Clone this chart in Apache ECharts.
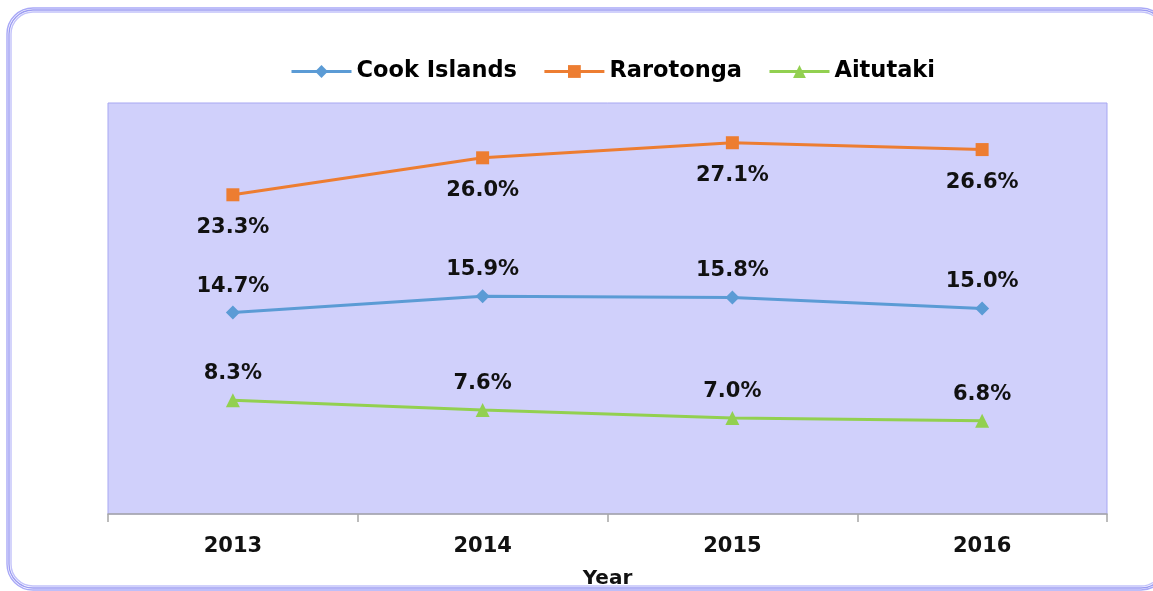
<!DOCTYPE html>
<html>
<head>
<meta charset="utf-8">
<style>
  html, body { margin: 0; padding: 0; background: #ffffff; }
  #chart { width: 1153px; height: 591px; }
</style>
<script src="https://cdn.jsdelivr.net/npm/echarts@6/dist/echarts.min.js"></script>
</head>
<body>
<div id="chart"></div>
<script>
// Share of households (%) by island group, 2013–2016
const years = ['2013', '2014', '2015', '2016'];
const cookIslands = [14.7, 15.9, 15.8, 15.0];
const rarotonga = [23.3, 26.0, 27.1, 26.6];
const aitutaki = [8.3, 7.6, 7.0, 6.8];

const labelFont = 'DejaVu Sans';

function pctLabel(position, distance) {
  return {
    show: true,
    position: position,
    distance: distance,
    color: '#111111',
    fontFamily: labelFont,
    fontWeight: 'bold',
    fontSize: 21,
    formatter: p => p.value.toFixed(1) + '%'
  };
}

const chart = echarts.init(document.getElementById('chart'), null, { renderer: 'canvas' });

// Rounded outer frame drawn as three thin concentric outlines
const frame = [0, 2, 4].map((o, i) => ({
  type: 'rect',
  silent: true,
  z: -1,
  shape: { x: 7 + o, y: 8 + o, width: 1160 - 2 * o, height: 582 - 2 * o, r: 26 - o },
  style: { fill: null, stroke: ['#a9a9f7', '#9b9bf2', '#c2c2fa'][i], lineWidth: 1.4 }
}));

chart.setOption({
  animation: false,
  backgroundColor: '#ffffff',
  graphic: frame,
  legend: {
    top: 55,
    left: 285,
    itemWidth: 60,
    itemHeight: 16,
    itemGap: 26,
    lineStyle: { width: 3 },
    textStyle: { color: '#000000', fontFamily: labelFont, fontWeight: 'bold', fontSize: 22.5 },
    data: ['Cook Islands', 'Rarotonga', 'Aitutaki']
  },
  grid: {
    left: 108, right: 46, top: 103, bottom: 77,
    outerBoundsMode: 'none',
    containLabel: false,
    show: true,
    backgroundColor: '#d0d0fb',
    borderColor: '#a7a7f2',
    borderWidth: 1
  },
  xAxis: {
    type: 'category',
    data: years,
    boundaryGap: true,
    axisLine: { lineStyle: { color: '#a6a6a6', width: 1.5 } },
    axisTick: { show: true, length: 8, lineStyle: { color: '#a6a6a6', width: 1.5 } },
    axisLabel: { margin: 22, color: '#111111', fontFamily: labelFont, fontWeight: 'bold', fontSize: 21 },
    name: 'Year',
    nameLocation: 'middle',
    nameGap: 55,
    nameTextStyle: { color: '#111111', fontFamily: labelFont, fontWeight: 'bold', fontSize: 20 }
  },
  yAxis: {
    type: 'value',
    min: 0,
    max: 30,
    interval: 5,
    show: false,
    splitLine: { show: false }
  },
  series: [
    {
      name: 'Cook Islands',
      type: 'line',
      data: cookIslands,
      color: '#5b9bd5',
      symbol: 'diamond',
      symbolSize: 14,
      lineStyle: { width: 3 },
      label: pctLabel('top', 9)
    },
    {
      name: 'Rarotonga',
      type: 'line',
      data: rarotonga,
      color: '#ed7d31',
      symbol: 'rect',
      symbolSize: 13,
      lineStyle: { width: 3 },
      label: pctLabel('bottom', 16)
    },
    {
      name: 'Aitutaki',
      type: 'line',
      data: aitutaki,
      color: '#92d050',
      symbol: 'triangle',
      symbolSize: 14,
      lineStyle: { width: 3 },
      label: pctLabel('top', 9)
    }
  ]
});
</script>
</body>
</html>
